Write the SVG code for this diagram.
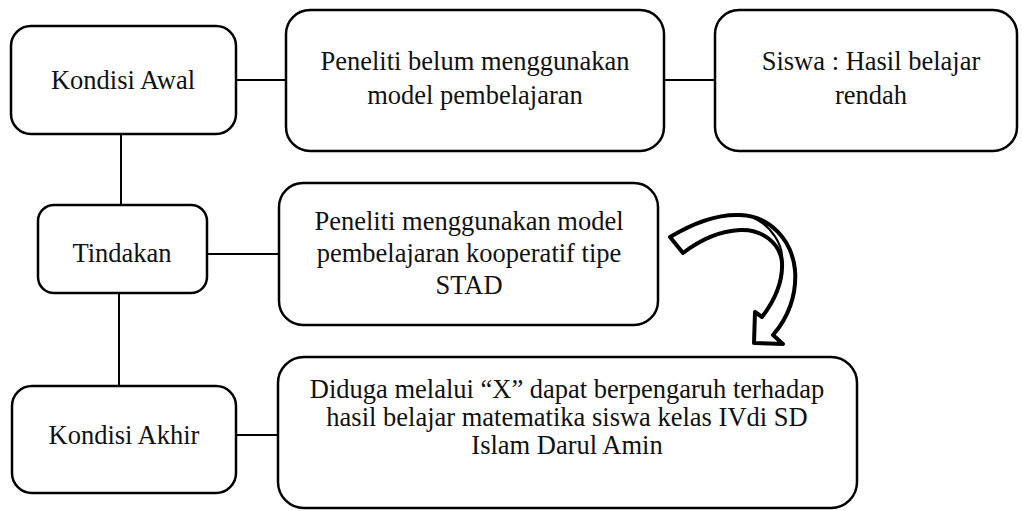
<svg xmlns="http://www.w3.org/2000/svg" width="1022" height="511" viewBox="0 0 1022 511">
<style>
.box{fill:#fff;stroke:#000;stroke-width:2.5}
.ln{stroke:#000;stroke-width:2;fill:none}
.t{font-size:26.5px;fill:#111;text-anchor:middle}
.arrow{fill:#fff;stroke:#000;stroke-width:4;stroke-linejoin:round}
</style>
<rect width="1022" height="511" fill="#fff"/>
<g id="connectors">
<line class="ln" x1="236" y1="80" x2="286" y2="80"/>
<line class="ln" x1="664" y1="80" x2="715" y2="80"/>
<line class="ln" x1="121" y1="134" x2="121" y2="205"/>
<line class="ln" x1="207" y1="254" x2="279" y2="254"/>
<line class="ln" x1="119" y1="293" x2="119" y2="386"/>
<line class="ln" x1="236" y1="435" x2="278" y2="435"/>
</g>
<g id="kondisi-awal" font-family="Liberation Serif, Noto Serif, DejaVu Serif, Times, serif">
<rect class="box" x="11" y="26" width="225" height="108" rx="20"/>
<text class="t" x="123" y="89">Kondisi Awal</text>
</g>
<g id="peneliti-belum" font-family="Liberation Serif, Noto Serif, DejaVu Serif, Times, serif">
<rect class="box" x="286" y="10" width="378" height="141" rx="24"/>
<text class="t" x="475" y="70">Peneliti belum menggunakan</text>
<text class="t" x="475" y="104">model pembelajaran</text>
</g>
<g id="siswa" font-family="Liberation Serif, Noto Serif, DejaVu Serif, Times, serif">
<rect class="box" x="715" y="10" width="302" height="141" rx="24"/>
<text class="t" x="871" y="70">Siswa : Hasil belajar</text>
<text class="t" x="871" y="104">rendah</text>
</g>
<g id="tindakan" font-family="Liberation Serif, Noto Serif, DejaVu Serif, Times, serif">
<rect class="box" x="38" y="205" width="169" height="88" rx="16"/>
<text class="t" x="122" y="262">Tindakan</text>
</g>
<g id="peneliti-menggunakan" font-family="Liberation Serif, Noto Serif, DejaVu Serif, Times, serif">
<rect class="box" x="279" y="183" width="379" height="142" rx="24"/>
<text class="t" x="469" y="230">Peneliti menggunakan model</text>
<text class="t" x="469" y="262">pembelajaran kooperatif tipe</text>
<text class="t" x="469" y="294">STAD</text>
</g>
<g id="kondisi-akhir" font-family="Liberation Serif, Noto Serif, DejaVu Serif, Times, serif">
<rect class="box" x="12" y="386" width="224" height="107" rx="20"/>
<text class="t" x="124" y="444">Kondisi Akhir</text>
</g>
<g id="diduga" font-family="Liberation Serif, Noto Serif, DejaVu Serif, Times, serif">
<rect class="box" x="278" y="357" width="579" height="151" rx="26"/>
<text class="t" x="567" y="398">Diduga melalui “X” dapat berpengaruh terhadap</text>
<text class="t" x="567" y="426">hasil belajar matematika siswa kelas IVdi SD</text>
<text class="t" x="567" y="454">Islam Darul Amin</text>
</g>
<g id="curved-arrow">
<path class="arrow" d="M670,237 C695,222 720,214 740,215 C770,216 792,240 795,270 C797,295 788,318 773,335 L783,344 L754,343 L755,312 L762,317 C775,300 783,280 782,262 C780,243 762,229 740,230 C720,231 700,240 683,253 Z"/>
<path class="ln" stroke-width="3" d="M752,217 C772,226 784,246 782,262"/>
</g>
</svg>
